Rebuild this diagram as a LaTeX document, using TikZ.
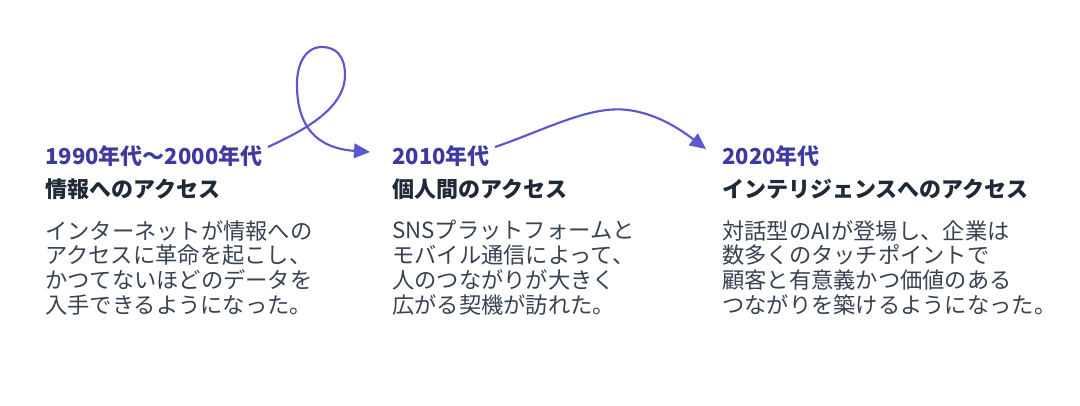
\documentclass[tikz,border=0pt]{standalone}
\usepackage{fontspec}
\setmainfont{Noto Sans CJK JP}
\usetikzlibrary{arrows.meta}
\definecolor{acc}{HTML}{3D3BA0}
\definecolor{line}{HTML}{5B57D0}
\definecolor{head}{HTML}{1F2937}
\definecolor{body}{HTML}{374151}
\tikzset{
 yr/.style={anchor=west,text=acc,font=\fontsize{16.5}{18}\selectfont\bfseries,inner sep=0},
 hd/.style={anchor=west,text=head,font=\fontsize{16.5}{18}\selectfont\bfseries,inner sep=0},
 bd/.style={anchor=north west,text=body,font=\fontsize{16.7}{18.6}\selectfont,align=left,inner sep=0},
 cv/.style={draw=line,line width=1.6pt,-{Triangle[length=12pt,width=11pt]}}
}
\begin{document}
\begin{tikzpicture}[x=0.75pt,y=-0.75pt]
\useasboundingbox (0,0) rectangle (1080,405);
\node[yr] (y1) at (45,156) {1990年代～2000年代};
\node[hd] (h1) at (45,189) {情報へのアクセス};
\node[bd] (b1) at (45,220) {インターネットが情報への\\アクセスに革命を起こし、\\かつてないほどのデータを\\入手できるようになった。};
\node[yr] (y2) at (392,156) {2010年代};
\node[hd] (h2) at (392,189) {個人間のアクセス};
\node[bd] (b2) at (392,220) {SNSプラットフォームと\\モバイル通信によって、\\人のつながりが大きく\\広がる契機が訪れた。};
\node[yr] (y3) at (722,156) {2020年代};
\node[hd] (h3) at (722,189) {インテリジェンスへのアクセス};
\node[bd] (b3) at (722,220) {対話型のAIが登場し、企業は\\数多くのタッチポイントで\\顧客と有意義かつ価値のある\\つながりを築けるようになった。};
\coordinate (s1) at (268,147);
\coordinate (e1) at (370,152);
\coordinate (s2) at (495,147);
\coordinate (e2) at (706,149);
\draw[cv] (s1) .. controls (300,132) and (345,110) .. (345,75)
  .. controls (345,55) and (335,47) .. (322,47)
  .. controls (305,47) and (296,65) .. (297,88)
  .. controls (298,125) and (315,148) .. (e1);
\draw[cv] (s2) .. controls (545,130) and (590,105) .. (628,110)
  .. controls (660,114) and (685,133) .. (e2);
\end{tikzpicture}
\end{document}
